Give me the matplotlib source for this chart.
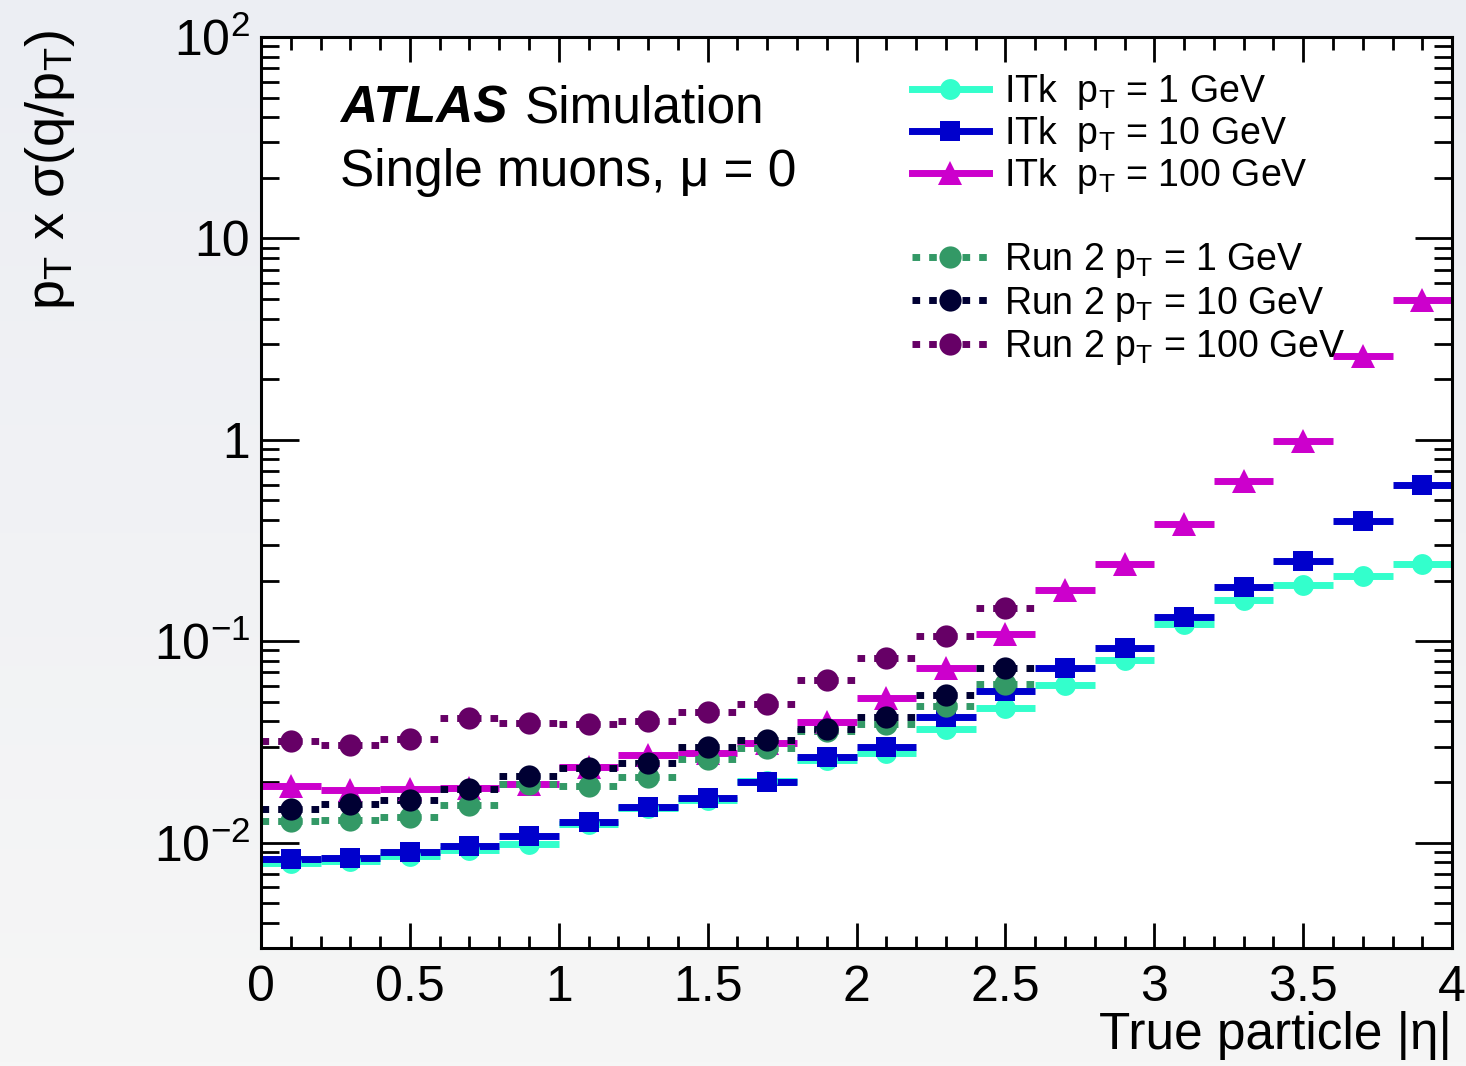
import numpy as np
import matplotlib.pyplot as plt
from matplotlib.lines import Line2D
from matplotlib.colors import LinearSegmentedColormap
from matplotlib.ticker import FixedLocator, FixedFormatter, LogLocator, MultipleLocator, NullFormatter

plt.rcParams['font.family'] = ['Liberation Sans', 'DejaVu Sans']
plt.rcParams['mathtext.fontset'] = 'custom'
plt.rcParams['mathtext.rm'] = 'Liberation Sans'
plt.rcParams['mathtext.it'] = 'Liberation Sans:italic'
plt.rcParams['mathtext.default'] = 'regular'

# bin centres in |eta| (bin width 0.2)
eta_itk = [0.1, 0.3, 0.5, 0.7, 0.9, 1.1, 1.3, 1.5, 1.7, 1.9,
           2.1, 2.3, 2.5, 2.7, 2.9, 3.1, 3.3, 3.5, 3.7, 3.9]
eta_run2 = eta_itk[:13]

# pT x sigma(q/pT)
itk_1gev = [0.00795, 0.00813, 0.00862, 0.00923, 0.00989, 0.01243, 0.01493, 0.01636, 0.02034, 0.02559,
            0.02803, 0.0365, 0.04642, 0.06041, 0.08041, 0.1215, 0.160, 0.1899, 0.2106, 0.2416]
itk_10gev = [0.00833, 0.00842, 0.00902, 0.00966, 0.01083, 0.01272, 0.0151, 0.01674, 0.02011, 0.02678,
             0.0297, 0.04186, 0.05639, 0.0734, 0.09231, 0.1316, 0.1856, 0.250, 0.3954, 0.5973]
itk_100gev = [0.0192, 0.01835, 0.01856, 0.0186, 0.01966, 0.02388, 0.0274, 0.02803, 0.03109, 0.03954,
              0.05204, 0.0734, 0.1083, 0.1794, 0.2416, 0.3821, 0.6252, 0.989, 2.618, 4.97]
run2_1gev = [0.01287, 0.01302, 0.01347, 0.01545, 0.01966, 0.01921, 0.0213, 0.02617, 0.02936, 0.03567,
             0.03864, 0.0475, 0.0611]
run2_10gev = [0.01476, 0.01563, 0.01636, 0.01856, 0.02154, 0.02335, 0.025, 0.0297, 0.03218, 0.0365,
              0.04186, 0.05386, 0.0734]
run2_100gev = [0.03181, 0.03039, 0.03255, 0.04138, 0.03908, 0.03864, 0.040, 0.04433, 0.04859, 0.06397,
               0.08229, 0.1059, 0.1459]

ytick_vals = [0.01, 0.1, 1, 10, 100]
ytick_labels = ['$10^{-2}$', '$10^{-1}$', '1', '10', '$10^{2}$']

DASH = (0, (1.1, 1.3))

series = [
    (eta_itk, itk_1gev, '#33ffcc', 'o', 15, '-', r'ITk  $p_{T}$ = 1 GeV'),
    (eta_itk, itk_10gev, '#0000cc', 's', 14, '-', r'ITk  $p_{T}$ = 10 GeV'),
    (eta_itk, itk_100gev, '#cc00cc', '^', 17, '-', r'ITk  $p_{T}$ = 100 GeV'),
    (eta_run2, run2_1gev, '#339966', 'o', 16, DASH, r'Run 2 $p_{T}$ = 1 GeV'),
    (eta_run2, run2_10gev, '#000033', 'o', 16, DASH, r'Run 2 $p_{T}$ = 10 GeV'),
    (eta_run2, run2_100gev, '#660066', 'o', 16, DASH, r'Run 2 $p_{T}$ = 100 GeV'),
]

fig = plt.figure(figsize=(14.66, 10.66), dpi=100)

# light grey page gradient behind the pad
bg = fig.add_axes([0, 0, 1, 1], zorder=-10)
cmap = LinearSegmentedColormap.from_list('page', ['#eceef3', '#f6f6f6'])
bg.imshow(np.linspace(0, 1, 256)[:, None], aspect='auto', cmap=cmap, extent=[0, 1, 0, 1])
bg.axis('off')

ax = fig.add_axes([0.1780, 0.1107, 0.8125, 0.8546])
ax.set_facecolor('white')

handles = []
for x, y, c, m, ms, ls, lab in series:
    eb = ax.errorbar(x, y, xerr=0.1, fmt=m, color=c, ms=ms, mew=0,
                     elinewidth=5, capsize=0)
    if ls != '-':
        eb[2][0].set_linestyle(ls)
    handles.append(Line2D([], [], color=c, lw=5, ls=ls, marker=m, ms=ms, mew=0))

ax.set_xlim(0, 4)
ax.set_yscale('log')
ax.set_ylim(0.003, 100)

ax.xaxis.set_minor_locator(MultipleLocator(0.1))
ax.set_xticks([0, 0.5, 1, 1.5, 2, 2.5, 3, 3.5, 4])
ax.set_xticklabels(['0', '0.5', '1', '1.5', '2', '2.5', '3', '3.5', '4'])
ax.yaxis.set_major_locator(FixedLocator(ytick_vals))
ax.yaxis.set_major_formatter(FixedFormatter(ytick_labels))
ax.yaxis.set_minor_locator(LogLocator(base=10, subs=np.arange(2, 10), numticks=20))
ax.yaxis.set_minor_formatter(NullFormatter())

ax.tick_params(which='both', direction='in', top=True, right=True, width=2, labelsize=36)
ax.tick_params(axis='x', which='major', length=18, pad=12)
ax.tick_params(axis='x', which='minor', length=9)
ax.tick_params(axis='y', which='major', length=27, pad=8)
ax.tick_params(axis='y', which='minor', length=13)
for s in ax.spines.values():
    s.set_linewidth(2.2)

fig.text(0.9905, 0.029, r'True particle |η|', ha='right', va='center', fontsize=37)
fig.text(0.034, 0.972, r'$p_{T}$ x σ(q/$p_{T}$)', rotation=90, ha='center', va='top', fontsize=39)

ax.text(0.0663, 0.9056, 'ATLAS', transform=ax.transAxes, fontsize=37,
        weight='bold', style='italic', va='baseline')
ax.text(0.2215, 0.9056, 'Simulation', transform=ax.transAxes, fontsize=37, va='baseline')
ax.text(0.0663, 0.8364, 'Single muons, μ = 0', transform=ax.transAxes, fontsize=37, va='baseline')

leg_kw = dict(loc='upper left', frameon=False, fontsize=27, borderpad=0, borderaxespad=0,
              handlelength=2.05, handletextpad=0.4)
leg1 = ax.legend(handles[:3], [s[6] for s in series[:3]], labelspacing=0.05,
                 bbox_to_anchor=(912 / 1466, 1 - 72 / 1066), bbox_transform=fig.transFigure, **leg_kw)
ax.add_artist(leg1)
ax.legend(handles[3:], [s[6] for s in series[3:]], labelspacing=0.12,
          bbox_to_anchor=(912 / 1466, 1 - 241 / 1066), bbox_transform=fig.transFigure, **leg_kw)

fig.savefig('out.png', dpi=100)
